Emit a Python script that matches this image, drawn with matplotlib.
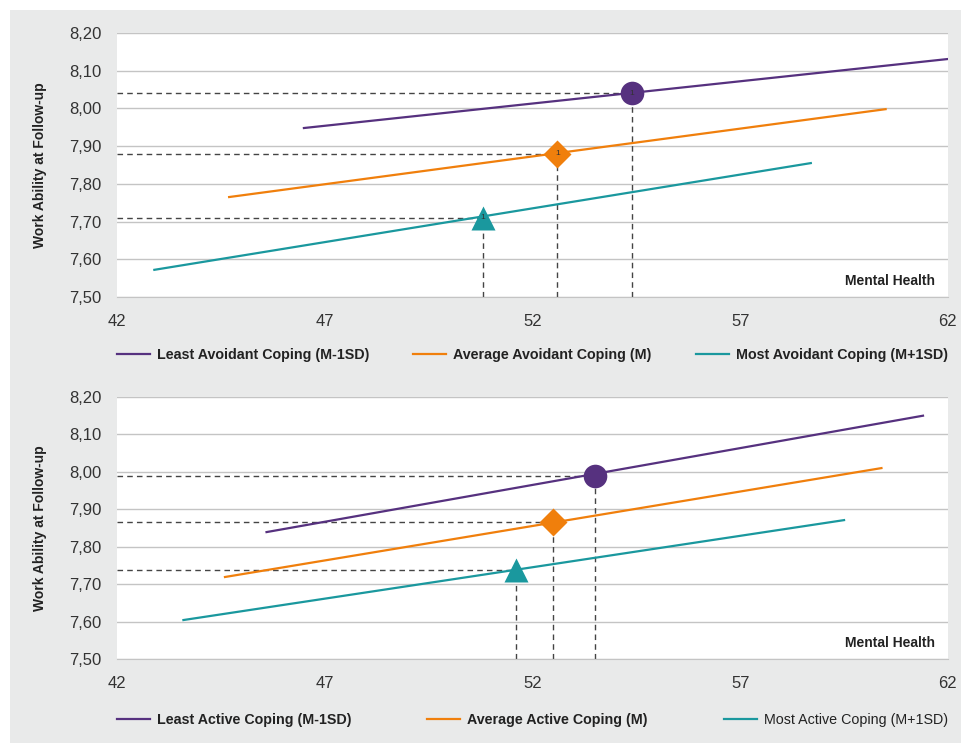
import matplotlib
matplotlib.use("Agg")
import matplotlib.pyplot as plt
from matplotlib.patches import Rectangle
from matplotlib.ticker import FuncFormatter

# Simple slopes: line endpoints (Mental Health, Work Ability) per coping level
series_names_top = ["Least Avoidant Coping (M-1SD)", "Average Avoidant Coping (M)", "Most Avoidant Coping (M+1SD)"]
series_names_bot = ["Least Active Coping (M-1SD)", "Average Active Coping (M)", "Most Active Coping (M+1SD)"]

top_x = [[46.5, 62.0], [44.7, 60.5], [42.9, 58.7]]
top_y = [[7.948, 8.131], [7.765, 7.998], [7.572, 7.855]]
top_pt_x = [54.4, 52.6, 50.8]
top_pt_y = [8.04, 7.88, 7.71]

bot_x = [[45.6, 61.4], [44.6, 60.4], [43.6, 59.5]]
bot_y = [[7.839, 8.150], [7.719, 8.010], [7.604, 7.871]]
bot_pt_x = [53.5, 52.5, 51.6]
bot_pt_y = [7.99, 7.865, 7.737]

colors = ["#56317f", "#f07f0c", "#1a989e"]
markers = ["o", "D", "^"]
msizes = [17, 14, 17]

xticks = [42, 47, 52, 57, 62]
yticks = [7.5, 7.6, 7.7, 7.8, 7.9, 8.0, 8.1, 8.2]

plt.rcParams["font.family"] = ["Liberation Sans", "DejaVu Sans"]

fig = plt.figure(figsize=(9.61, 7.43), dpi=100)
fig.patches.append(Rectangle((10 / 961, 0), 1, 1 - 10 / 743, transform=fig.transFigure,
                             facecolor="#e9eaea", edgecolor="none", zorder=-10))

comma = FuncFormatter(lambda v, p: f"{v:.2f}".replace(".", ","))


def draw(ax, xs, ys, px, py, names, labels_one, leg_y):
    ax.set_facecolor("white")
    ax.set_xlim(42, 62)
    ax.set_ylim(7.5, 8.2)
    ax.set_xticks(xticks)
    ax.set_yticks(yticks)
    ax.yaxis.set_major_formatter(comma)
    ax.grid(axis="y", color="#c4c4c4", linewidth=1)
    ax.set_axisbelow(True)
    for s in ["top", "right", "left"]:
        ax.spines[s].set_visible(False)
    ax.spines["bottom"].set_color("#c4c4c4")
    ax.tick_params(length=0, labelsize=12, colors="#333333", pad=11)
    ax.tick_params(axis="x", pad=12)
    lines = []
    for i in range(3):
        ln, = ax.plot(xs[i], ys[i], color=colors[i], lw=1.6, label=names[i], zorder=3)
        lines.append(ln)
        ax.plot([42, px[i]], [py[i], py[i]], color="#444444", lw=1, ls=(0, (4, 3)), zorder=2)
        ax.plot([px[i], px[i]], [7.5, py[i]], color="#444444", lw=1, ls=(0, (4, 3)), zorder=2)
        ax.plot(px[i], py[i], marker=markers[i], ms=msizes[i], color=colors[i], mec="none", zorder=4)
        if labels_one:
            ax.text(px[i], py[i], "1", fontsize=6, ha="center", va="center", color="#333333", zorder=5)
    ax.set_ylabel("Work Ability at Follow-up", fontsize=10, fontweight="bold", color="#222222", labelpad=16)
    ax.text(0.985, 0.035, "Mental Health", transform=ax.transAxes, ha="right", va="bottom",
            fontsize=10, fontweight="bold", color="#222222")
    leg = ax.legend(handles=lines, loc="center", bbox_to_anchor=(0.0, leg_y - 0.05, 1.0, 0.1), mode="expand",
                    ncol=3, frameon=False, handlelength=2.3, handletextpad=0.5, borderaxespad=0, borderpad=0,
                    prop={"weight": "bold", "size": 10.3})
    for t in leg.get_texts():
        t.set_color("#222222")
    return leg


ax1 = fig.add_axes([0.1217, 0.6003, 0.8647, 0.3553])
draw(ax1, top_x, top_y, top_pt_x, top_pt_y, series_names_top, True, -0.22)

ax2 = fig.add_axes([0.1217, 0.1131, 0.8647, 0.3526])
leg2 = draw(ax2, bot_x, bot_y, bot_pt_x, bot_pt_y, series_names_bot, False, -0.232)
leg2.get_texts()[2].set_fontweight("normal")

fig.savefig("out.png", dpi=100, facecolor="white")
